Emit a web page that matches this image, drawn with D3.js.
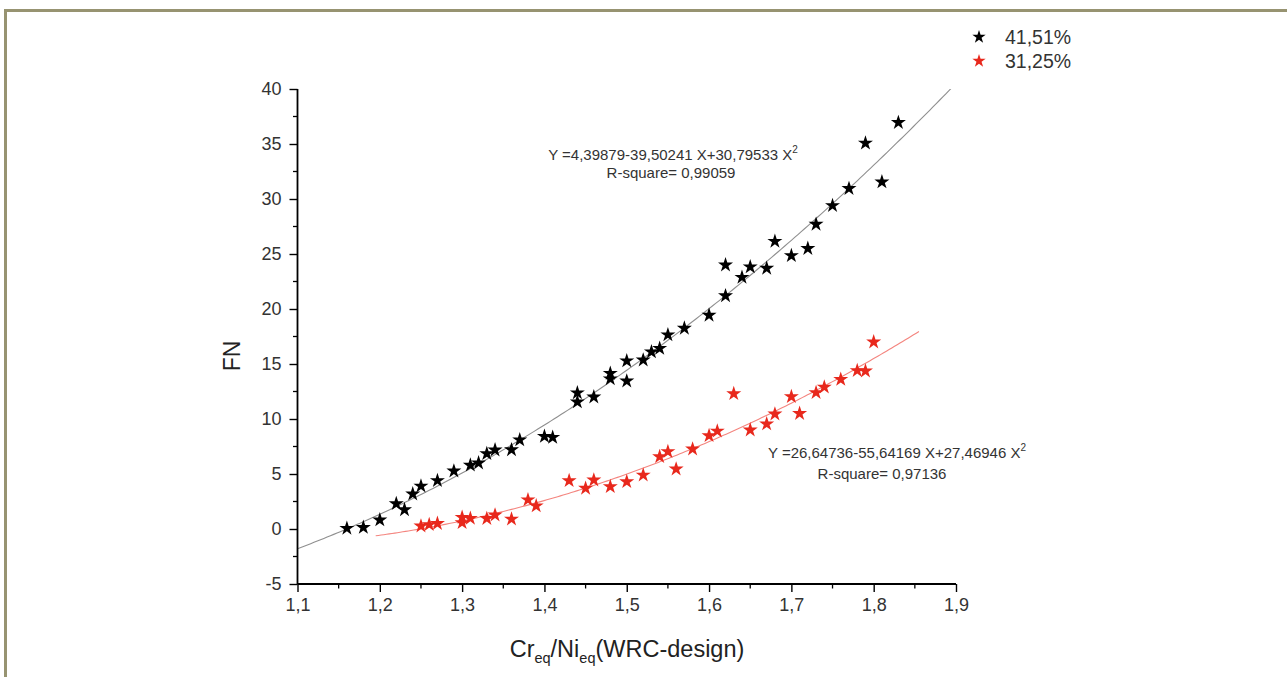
<!DOCTYPE html>
<html><head><meta charset="utf-8">
<script src="https://cdn.jsdelivr.net/npm/d3@7"></script>
<style>
html,body{margin:0;padding:0;background:#fff;}
svg{display:block;font-family:"Liberation Sans",Arial,sans-serif;}
</style></head>
<body>
<svg id="chart" width="1287" height="677"></svg>
<script>
// ---- data ----
const seriesNames = ["41,51%", "31,25%"];
const blackX = [1.16,1.18,1.20,1.22,1.23,1.24,1.25,1.27,1.29,1.31,1.32,1.33,1.34,1.36,1.37,1.40,1.41,1.44,1.44,1.46,1.48,1.48,1.50,1.50,1.52,1.53,1.54,1.55,1.57,1.60,1.62,1.62,1.64,1.65,1.67,1.68,1.70,1.72,1.73,1.75,1.77,1.79,1.81,1.83];
const blackY = [0.06,0.14,0.82,2.3,1.75,3.18,3.9,4.4,5.27,5.8,6.0,6.85,7.18,7.2,8.1,8.42,8.33,12.38,11.55,12.0,14.15,13.65,15.28,13.45,15.36,16.1,16.42,17.65,18.25,19.43,21.2,24.0,22.88,23.83,23.7,26.15,24.85,25.5,27.7,29.4,30.95,35.08,31.55,36.95];
const redX = [1.25,1.26,1.27,1.30,1.30,1.31,1.33,1.34,1.36,1.38,1.39,1.43,1.45,1.46,1.48,1.50,1.52,1.54,1.55,1.56,1.58,1.60,1.61,1.63,1.65,1.67,1.68,1.70,1.71,1.73,1.74,1.76,1.78,1.79,1.80];
const redY = [0.27,0.4,0.5,1.06,0.57,0.97,0.95,1.27,0.9,2.65,2.1,4.39,3.7,4.45,3.85,4.3,4.9,6.57,7.03,5.45,7.27,8.48,8.9,12.3,9.0,9.55,10.45,12.03,10.5,12.4,12.9,13.6,14.4,14.36,17.0];
const blackFit = [4.39879, -39.50241, 30.79533];
const redFit = [26.64736, -55.64169, 27.46946];
const blackFitRange = [1.1, 1.9];
const redFitRange = [1.195, 1.855];
const eq1 = ["Y =4,39879-39,50241 X+30,79533 X", "R-square= 0,99059"];
const eq2 = ["Y =26,64736-55,64169 X+27,46946 X", "R-square= 0,97136"];
const xTicks = [1.1,1.2,1.3,1.4,1.5,1.6,1.7,1.8,1.9];
const yTicks = [-5,0,5,10,15,20,25,30,35,40];
const xMinor = [1.15,1.25,1.35,1.45,1.55,1.65,1.75,1.85];
const yMinor = [-2.5,2.5,7.5,12.5,17.5,22.5,27.5,32.5,37.5];

// ---- layout ----
const svg = d3.select("#chart");
const pLeft = 297.5, pRight = 956, pTop = 89, pBottom = 584;
const x = d3.scaleLinear().domain([1.1, 1.9]).range([pLeft, pRight]);
const y = d3.scaleLinear().domain([-5, 40]).range([pBottom, pTop]);
const loc = d3.formatLocale({decimal: ",", thousands: ".", grouping: [3], currency: ["", ""], minus: "-"});
const fmtX = loc.format(".1f");
const fmtY = loc.format("d");
const FONT = "'Liberation Sans',Arial,sans-serif";

// frame
svg.append("path").attr("d", "M5.5,677 V10.5 H1287")
  .attr("fill", "none").attr("stroke", "#979371").attr("stroke-width", 3);

// clip
svg.append("clipPath").attr("id", "clip").append("rect")
  .attr("x", pLeft).attr("y", pTop).attr("width", pRight - pLeft).attr("height", pBottom - pTop);

// fit curves
function fitPts(c, r) {
  const n = 200, pts = [];
  for (let i = 0; i <= n; i++) {
    const xv = r[0] + (r[1] - r[0]) * i / n;
    pts.push([xv, c[0] + c[1] * xv + c[2] * xv * xv]);
  }
  return pts;
}
const line = d3.line().x(d => x(d[0])).y(d => y(d[1]));
svg.append("path").attr("clip-path", "url(#clip)").attr("d", line(fitPts(blackFit, blackFitRange)))
  .attr("fill", "none").attr("stroke", "#8f8f8f").attr("stroke-width", 1.1);
svg.append("path").attr("clip-path", "url(#clip)").attr("d", line(fitPts(redFit, redFitRange)))
  .attr("fill", "none").attr("stroke", "#f4857f").attr("stroke-width", 1.1);

// axes
const yAxis = d3.axisLeft(y).tickValues(yTicks).tickSize(8).tickPadding(8).tickFormat(fmtY);
const xAxis = d3.axisBottom(x).tickValues(xTicks).tickSize(8).tickPadding(6).tickFormat(fmtX);
const gy = svg.append("g").attr("transform", `translate(${pLeft},0)`).call(yAxis);
const gx = svg.append("g").attr("transform", `translate(0,${pBottom})`).call(xAxis);
[gy, gx].forEach(g => {
  g.attr("font-size", 18).attr("font-family", FONT);
  g.select(".domain").attr("stroke", "#000").attr("stroke-width", 1.8);
  g.selectAll(".tick line").attr("stroke", "#000").attr("stroke-width", 1.4);
  g.selectAll(".tick text").attr("fill", "#333");
});
gy.select(".domain").attr("d", `M0,${pBottom}V${pTop}`);
gx.select(".domain").attr("d", `M${pLeft},0H${pRight}`);
svg.append("g").selectAll("line").data(yMinor).join("line")
  .attr("x1", pLeft - 4.5).attr("x2", pLeft).attr("y1", d => y(d)).attr("y2", d => y(d))
  .attr("stroke", "#000").attr("stroke-width", 1.3);
svg.append("g").selectAll("line").data(xMinor).join("line")
  .attr("y1", pBottom).attr("y2", pBottom + 4.5).attr("x1", d => x(d)).attr("x2", d => x(d))
  .attr("stroke", "#000").attr("stroke-width", 1.3);

// axis titles
svg.append("text").attr("transform", `translate(240,356) rotate(-90)`)
  .attr("text-anchor", "middle").attr("font-size", 23).attr("fill", "#222").text("FN");
const xt = svg.append("text").attr("x", 627).attr("y", 657).attr("text-anchor", "middle")
  .attr("font-size", 23.5).attr("fill", "#222");
xt.append("tspan").text("Cr");
xt.append("tspan").attr("font-size", 14.5).attr("dy", 6).text("eq");
xt.append("tspan").attr("dy", -6).text("/Ni");
xt.append("tspan").attr("font-size", 14.5).attr("dy", 6).text("eq");
xt.append("tspan").attr("dy", -6).text("(WRC-design)");

// stars
const star = d3.symbol().type(d3.symbolStar).size(70);
const blackData = blackX.map((v, i) => [v, blackY[i]]);
const redData = redX.map((v, i) => [v, redY[i]]);
svg.append("g").selectAll("path").data(redData).join("path")
  .attr("d", star).attr("transform", d => `translate(${x(d[0])},${y(d[1])})`).attr("fill", "#e8281c");
svg.append("g").selectAll("path").data(blackData).join("path")
  .attr("d", star).attr("transform", d => `translate(${x(d[0])},${y(d[1])})`).attr("fill", "#000");

// equations
function eq(lines, cx1, cx2, y1, y2) {
  const t = svg.append("text").attr("x", cx1).attr("y", y1).attr("text-anchor", "middle")
    .attr("font-size", 15).attr("fill", "#333");
  t.append("tspan").text(lines[0]);
  t.append("tspan").attr("font-size", 10).attr("dy", -7).text("2");
  svg.append("text").attr("x", cx2).attr("y", y2).attr("text-anchor", "middle")
    .attr("font-size", 15).attr("fill", "#333").text(lines[1]);
}
eq(eq1, 673, 671, 160, 178);
eq(eq2, 897, 882, 458, 479);

// legend
const legColors = ["#000", "#e8281c"];
seriesNames.forEach((n, i) => {
  const ly = 37 + i * 24;
  svg.append("path").attr("d", d3.symbol().type(d3.symbolStar).size(55)())
    .attr("transform", `translate(979,${ly})`).attr("fill", legColors[i]);
  svg.append("text").attr("x", 1005).attr("y", ly + 7).attr("font-size", 19.5)
    .attr("fill", "#333").text(n);
});
</script>
</body></html>
